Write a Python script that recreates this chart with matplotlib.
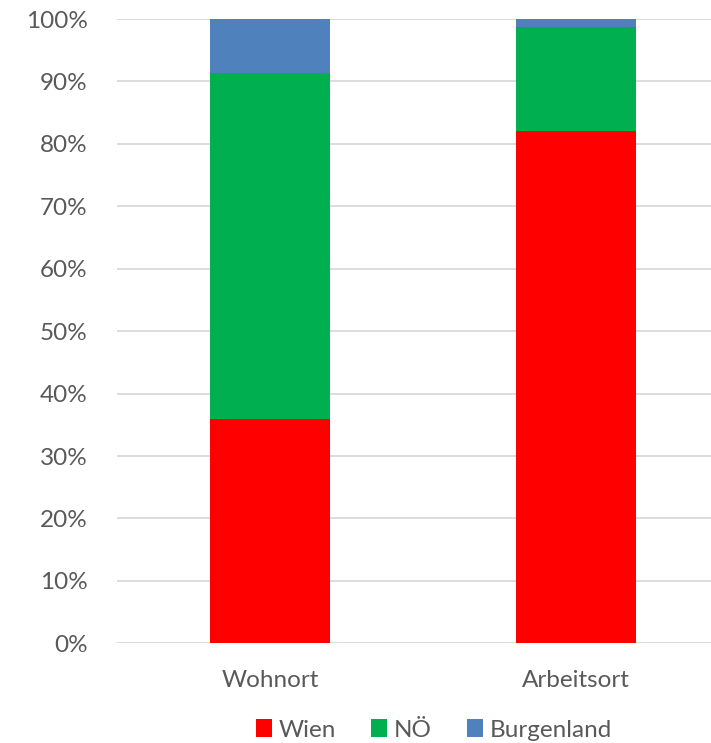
import numpy as np
import matplotlib.pyplot as plt

# data (share in %)
categories = ["Wohnort", "Arbeitsort"]
series_names = ["Wien", "NÖ", "Burgenland"]
wien = [35.9, 82.1]
noe = [55.5, 16.6]
burgenland = [8.6, 1.3]
colors = ["#FF0000", "#00B050", "#4F81BD"]

plt.rcParams['font.family'] = ['Lato', 'DejaVu Sans']
txt = "#595959"
fs = 17.5

fig = plt.figure(figsize=(7.11, 7.43), dpi=100)
ax = fig.add_axes([117 / 711, (743 - 643.3) / 743, (711 - 117) / 711, (643.3 - 19) / 743])

x = np.arange(len(categories))
w = 0.395
bottom = np.zeros(len(categories))
for name, vals, c in zip(series_names, [wien, noe, burgenland], colors):
    ax.bar(x, vals, w, bottom=bottom, color=c, label=name, zorder=3)
    bottom += np.array(vals)

ax.set_ylim(0, 100)
ax.set_xlim(-0.5, (711 - 270) / 306)
ax.set_yticks(np.arange(0, 101, 10))
ax.set_yticklabels([f"{v}%" for v in range(0, 101, 10)])
ax.set_xticks(x)
ax.set_xticklabels(categories)
ax.yaxis.grid(True, color="#D9D9D9", linewidth=1.3, zorder=0)
ax.tick_params(axis="y", length=0, pad=21, labelsize=fs, labelcolor=txt)
ax.tick_params(axis="x", length=0, pad=19, labelsize=fs, labelcolor=txt)
for s in ax.spines.values():
    s.set_visible(False)

fig.legend(loc="center", bbox_to_anchor=(434 / 711, (743 - 730) / 743), ncol=3,
           frameon=False, fontsize=fs, labelcolor=txt, handlelength=0.66,
           handleheight=0.74, handletextpad=0.28, columnspacing=1.45)

fig.savefig("out.png", dpi=100)
